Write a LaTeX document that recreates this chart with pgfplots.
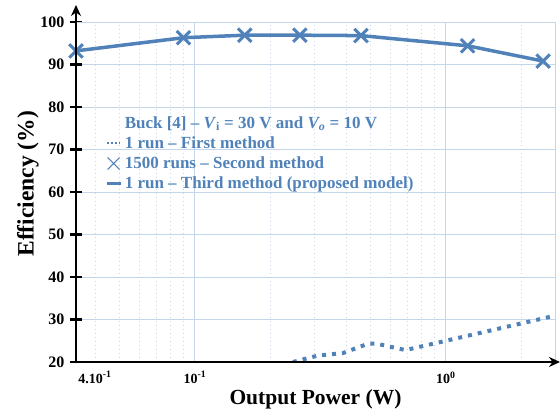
\documentclass[border=0pt]{standalone}
\usepackage{pgfplots}
\pgfplotsset{compat=1.18}
\usepackage{fontspec}
\setmainfont{Liberation Serif}
\usetikzlibrary{arrows.meta}
\definecolor{steel}{RGB}{80,130,185}
\definecolor{gridc}{RGB}{196,214,234}

\begin{document}
\begin{tikzpicture}
\begin{axis}[
  name=ax,
  scale only axis, width=479pt, height=340pt,
  xmode=log, xmin=0.0336, xmax=2.72, ymin=20, ymax=100,
  ytick={20,30,...,100},
  xtick={0.1,1}, xticklabels={10\textsuperscript{-1},10\textsuperscript{0}},
  extra x ticks={0.04}, extra x tick labels={4.10\textsuperscript{-1}},
  extra x tick style={grid=none, xtick style={draw=none}},
  minor xtick={0.04,0.05,0.06,0.07,0.08,0.09,0.2,0.3,0.4,0.5,0.6,0.7,0.8,0.9,2},
  grid=both,
  major grid style={gridc, line width=0.9pt},
  minor grid style={gridc, dash pattern=on 1pt off 3pt, line width=0.7pt},
  axis line style={gridc, line width=0.9pt},
  xtick style={draw=none},
  ytick style={black, line width=2.5pt},
  ytick pos=left,
  major tick length=12pt, tick align=center,
  /pgf/number format/assume math mode=true,
  yticklabel style={font=\bfseries\fontsize{16}{16}\selectfont, text=black, xshift=-2pt},
  xticklabel style={font=\bfseries\fontsize{14}{14}\selectfont, text=black},
  every axis x label/.style={at={(axis description cs:0.5,0)}, anchor=center, yshift=-37pt, font=\bfseries\fontsize{21.5}{21.5}\selectfont},
  every axis y label/.style={at={([xshift=-48pt]axis description cs:0,0.524)}, rotate=90, anchor=center, font=\bfseries\fontsize{23.5}{23.5}\selectfont},
  xlabel={Output Power (W)},
  ylabel={Efficiency (\%)},
  legend style={at={(rel axis cs:0.055,0.735)}, anchor=north west, draw=none, fill=none,
    font=\bfseries\fontsize{17}{19}\selectfont, text=steel, row sep=3pt,
    /tikz/every even column/.append style={column sep=5pt}},
  legend cell align=left,
]
\addlegendimage{empty legend}
\addlegendentry{Buck [4] -- \textit{V}\textsubscript{i} = 30 V and \textit{V\textsubscript{o}} = 10 V}

\addplot[steel, line width=4pt, dash pattern=on 4pt off 6pt,
  legend image code/.code={\draw[steel, line width=1.5pt, dash pattern=on 1.5pt off 2.5pt] (0cm,0cm) -- (0.45cm,0cm);}]
  coordinates {(0.2457,20.0) (0.309,21.5) (0.389,22.1) (0.49,24.3) (0.53,24.3) (0.69,22.8) (2.72,30.9)};
\addlegendentry{1 run -- First method}

\addplot[steel, line width=3.5pt, forget plot]
  coordinates {(0.0336,93.2) (0.09,96.3) (0.158,96.9) (0.262,96.9) (0.459,96.8) (1.22,94.4) (2.44,90.8)};

\addplot[steel, only marks, mark=x, mark size=9.5pt, mark options={line width=3pt},
  legend image code/.code={\draw[steel, line width=1.1pt] (0.02cm,-0.21cm) -- (0.44cm,0.21cm) (0.02cm,0.21cm) -- (0.44cm,-0.21cm);}]
  coordinates {(0.0336,93.2) (0.09,96.3) (0.158,96.9) (0.262,96.9) (0.459,96.8) (1.22,94.4) (2.44,90.8)};
\addlegendentry{1500 runs -- Second method}

\addlegendimage{steel, line width=3pt, legend image code/.code={\draw[steel, line width=3pt] (0cm,0cm) -- (0.5cm,0cm);}}
\addlegendentry{1 run -- Third method (proposed model)}
\end{axis}
\draw[black, line width=2.8pt, -{Stealth[length=11pt,width=10pt]}] ([yshift=-1.4pt]ax.south west) -- ([yshift=17pt]ax.north west);
\draw[black, line width=2.8pt, -{Stealth[length=11pt,width=10pt]}] ([xshift=-1.4pt]ax.south west) -- ([xshift=5pt]ax.south east);
\pgfresetboundingbox
\path[use as bounding box] ([xshift=-76pt,yshift=-53pt]ax.south west) rectangle ([xshift=5pt,yshift=22pt]ax.north east);
\end{tikzpicture}
\end{document}
